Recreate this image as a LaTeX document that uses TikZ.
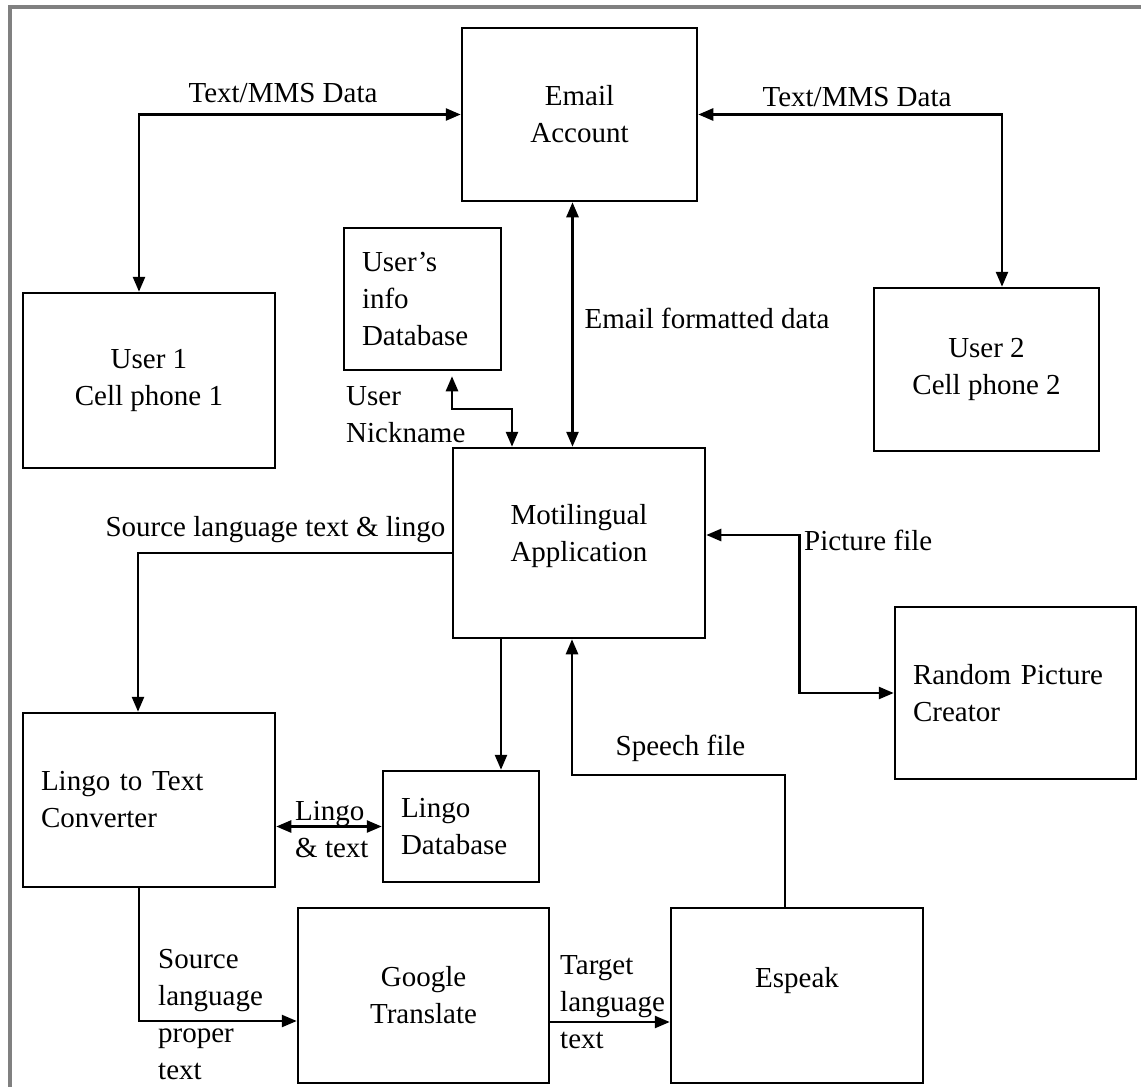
\documentclass[tikz,border=0pt]{standalone}
\usepackage{fontspec}
\setmainfont{Liberation Serif}
\usetikzlibrary{arrows.meta,calc}
\begin{document}
\begin{tikzpicture}[x=1pt,y=-1pt,
  every node/.style={font=\fontsize{29}{37}\selectfont},
  box/.style={draw, line width=2.5pt, align=center, inner sep=0pt},
  lbox/.style={draw, line width=2.5pt, align=left, inner xsep=18pt, inner ysep=0pt},
  lbl/.style={inner sep=0pt, align=left},
  tip/.tip={Triangle[length=15pt,width=12pt]},
  conn/.style={line width=2.5pt, -tip},
  dbl/.style={line width=2.5pt, tip-tip},
  frame/.style={draw=gray, line width=3.5pt}
]
\useasboundingbox (0,0) rectangle (1141,1087);
% outer frame (top and left edges visible)
\draw[frame] (10,1090) -- (10,7) -- (1145,7);

% boxes
\node[box, minimum width=235pt, minimum height=173pt] (email) at (579.5,114.5) {Email\\Account};
\node[lbox, minimum width=157pt, text width=121pt, minimum height=142pt] (uinfo) at (422.5,299) {User’s\\info\\Database};
\node[box, minimum width=252pt, minimum height=175pt] (user1) at (149,380.5) {User 1\\Cell phone 1};
\node[box, minimum width=225pt, minimum height=163pt] (user2) at (986.5,369.5) {User 2\\Cell phone 2};
\node[box, minimum width=252pt, minimum height=190pt] (moti) at (579,543) {Motilingual\\Application\\[-17pt]\mbox{}};
\node[lbox, minimum width=241pt, text width=205pt, minimum height=172pt] (rpc) at (1015.5,693) {Random Picture\\Creator};
\node[lbox, minimum width=252pt, text width=216pt, minimum height=174pt] (ltc) at (149,800) {Lingo to Text\\Converter};
\node[lbox, minimum width=156pt, text width=120pt, minimum height=111pt] (ldb) at (461,826.5) {Lingo\\Database};
\node[box, minimum width=251pt, minimum height=175pt] (gt) at (423.5,995.5) {Google\\Translate};
\node[box, minimum width=252pt, minimum height=175pt] (esp) at (797,995.5) {Espeak\\\mbox{}};

% connectors
\draw[dbl] (email.west) -| ([xshift=-10pt]user1.north);
\draw[dbl] (email.east) -| ([xshift=15.5pt]user2.north);
\draw[dbl] ([xshift=-7pt]email.south) -- ([xshift=-6.5pt]moti.north);
\draw[dbl] ([xshift=-67pt]moti.north) -- ++(0,-38) -| ([xshift=29.5pt,yshift=-5pt]uinfo.south);
\draw[conn] ([yshift=-10pt]moti.west) -| ([xshift=-11pt]ltc.north);
\draw[dbl] ([yshift=8pt]moti.east) -- ++(93,0) |- (rpc.west);
\draw[conn] ([xshift=-78pt]moti.south) -- ([xshift=40pt]ldb.north);
\draw[conn] ([xshift=-12pt]esp.north) -- ++(0,-132) -| ([xshift=-7pt]moti.south);
\draw[dbl] (ltc.east |- ldb.west) -- (ldb.west);
\draw[conn] ([xshift=-10pt]ltc.south) |- ([yshift=-25.5pt]gt.west);
\draw[conn] ([yshift=-26.5pt]gt.east) -- ([yshift=-26.5pt]esp.west);

% labels
\node[lbl] (l1) at (283,93) {Text/MMS Data};
\node[lbl] (l2) at (857,97) {Text/MMS Data};
\node[lbl] (l3) at (707,318) {Email formatted data};
\node[lbl, anchor=west] (l4) at (346,415) {User\\Nickname};
\node[lbl] (l5) at (275.5,530) {Source language text \& lingo};
\node[lbl, anchor=west] (l6) at (804,540) {Picture file};
\node[lbl] (l7) at (680.5,748) {Speech file};
\node[lbl, anchor=west] (l8) at (295,830) {Lingo\\\& text};
\node[lbl, anchor=west] (l9) at (158,1015) {Source\\language\\proper\\text};
\node[lbl, anchor=west] (l10) at (560,1002) {Target\\language\\text};
\end{tikzpicture}
\end{document}
